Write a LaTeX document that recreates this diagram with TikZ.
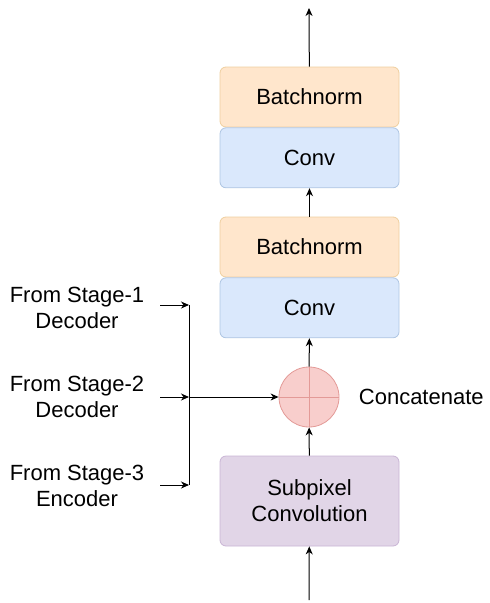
\documentclass[tikz,border=0pt]{standalone}
\usepackage{fontspec}
\setmainfont{Liberation Sans}
\usetikzlibrary{positioning,arrows.meta}
\definecolor{bnfill}{HTML}{FFE6CC}
\definecolor{bndraw}{HTML}{EFCF9F}
\definecolor{convfill}{HTML}{DAE8FC}
\definecolor{convdraw}{HTML}{AFC6E3}
\definecolor{catfill}{HTML}{F8CECC}
\definecolor{catdraw}{HTML}{E39A97}
\definecolor{subfill}{HTML}{E1D5E7}
\definecolor{subdraw}{HTML}{C9B5D5}
\tikzstyle{every node}=[font=\fontsize{22}{26}\selectfont]
\tikzstyle{block}=[rounded corners=6pt, minimum width=179pt, minimum height=60pt, inner sep=0pt, line width=0.8pt]
\tikzstyle{bnbox}=[block, draw=bndraw, fill=bnfill]
\tikzstyle{convbox}=[block, draw=convdraw, fill=convfill]
\tikzstyle{subbox}=[block, draw=subdraw, fill=subfill, minimum height=90pt, align=center]
\tikzstyle{catnode}=[circle, draw=catdraw, fill=catfill, minimum size=60pt, inner sep=0pt, line width=0.8pt]
\tikzstyle{label}=[align=center, inner sep=0pt]

\begin{document}
\begin{tikzpicture}[x=1pt,y=-1pt,>={Stealth[length=8pt,width=7pt,inset=2.5pt]},line width=1pt]
			\useasboundingbox (0,0) rectangle (490,603);
			\node[bnbox]   (bn_1)   at (309.5,97)        {Batchnorm};
			\node[convbox] (conv_1) [below=0pt of bn_1]  {Conv};
			\node[bnbox]   (bn_2)   at (309.5,247)       {Batchnorm};
			\node[convbox] (conv_2) [below=0pt of bn_2]  {Conv};
			\node[catnode] (cat)    at (309,397)         {};
			\node[subbox]  (sub)    at (309.5,501)       {Subpixel\\Convolution};
			\node[label]   (cat_l)  [right=19pt of cat]  {Concatenate};
			\draw[catdraw,line width=0.6pt] (cat.north) -- (cat.south) (cat.west) -- (cat.east);
			% inputs on the left
			\node[label] (from_1) at (77,307.5) {From Stage-1\\Decoder};
			\node[label] (from_2) at (77,396.5) {From Stage-2\\Decoder};
			\node[label] (from_3) at (77,485.5) {From Stage-3\\Encoder};
			\coordinate (in_1) at (160,305);
			\coordinate (in_2) at (160,397);
			\coordinate (in_3) at (160,485);
			\coordinate (j_1)  at (189,305);
			\coordinate (j_2)  at (189,397);
			\coordinate (j_3)  at (189,485);
			\coordinate (top)  at (309,8);
			\coordinate (bot)  at (309,600);
			\draw (j_1) -- (j_3);
			\path[->]
			(in_1)   edge (j_1)
			(in_2)   edge (j_2)
			(in_3)   edge (j_3)
			(j_2)    edge (cat)
			(bot)    edge (sub)
			(sub)    edge (cat)
			(cat)    edge (conv_2)
			(bn_2)   edge (conv_1)
			(bn_1)   edge (top);
		\end{tikzpicture}
\end{document}
